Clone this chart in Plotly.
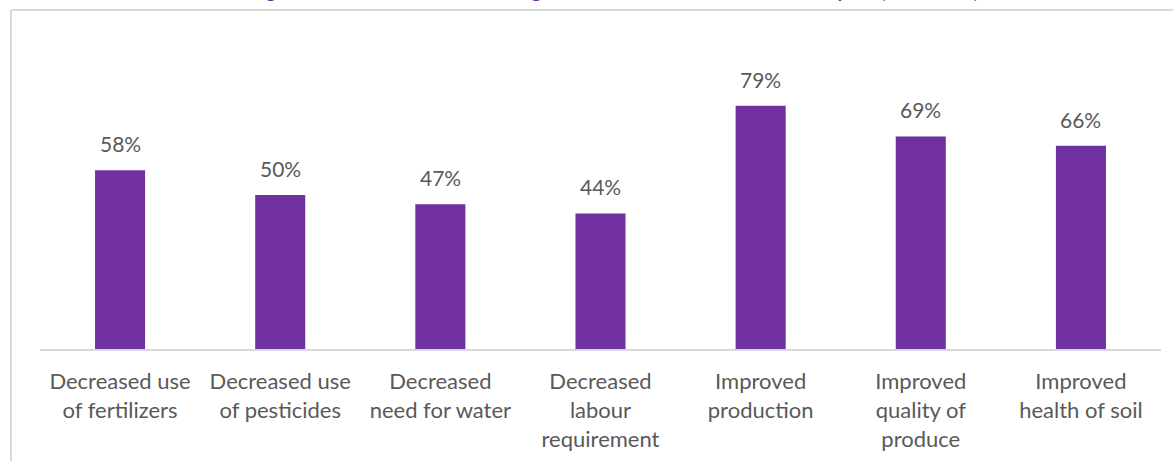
import plotly.graph_objects as go

# Share of farmers reporting each change (%)
categories = [
    "Decreased use<br>of fertilizers",
    "Decreased use<br>of pesticides",
    "Decreased<br>need for water",
    "Decreased<br>labour<br>requirement",
    "Improved<br>production",
    "Improved<br>quality of<br>produce",
    "Improved<br>health of soil",
]
values = [58, 50, 47, 44, 79, 69, 66]
title_text = "Percentage of farmers who noticed changes after the new methods were adopted (all farmers)"

W, H = 1173, 461
ML, MR, MT, MB = 40, 12, 41, 112
PURPLE = "#7030A0"
GREY_TXT = "#595959"
FONT = "Lato, 'Open Sans', sans-serif"

pw = W - ML - MR
ph = H - MT - MB


def px_x(p):
    return (p - ML) / pw


def px_y(p):
    return (H - MB - p) / ph


fig = go.Figure(
    go.Bar(
        x=categories,
        y=values,
        marker=dict(color=PURPLE, line=dict(width=0)),
        hoverinfo="skip",
    )
)

# value labels above each bar
for c, v in zip(categories, values):
    fig.add_annotation(
        x=c, y=v, text=f"{v}%", showarrow=False,
        yanchor="bottom", yshift=12,
        font=dict(family=FONT, size=21, color=GREY_TXT),
    )

# heading (runs off the top edge of the page)
fig.add_annotation(
    xref="paper", yref="paper", x=px_x(585), y=px_y(4),
    xanchor="center", yanchor="bottom", showarrow=False,
    text=f"<b>{title_text}</b>",
    font=dict(family="Lato, sans-serif", size=19, color=PURPLE),
)

# chart frame: top and left edges
fig.add_shape(type="line", xref="paper", yref="paper",
              x0=px_x(11), x1=px_x(1180), y0=px_y(10), y1=px_y(10),
              line=dict(color="#D9D9D9", width=2))
fig.add_shape(type="line", xref="paper", yref="paper",
              x0=px_x(11), x1=px_x(11), y0=px_y(10), y1=px_y(470),
              line=dict(color="#D9D9D9", width=2))

fig.update_layout(
    width=W, height=H,
    margin=dict(l=ML, r=MR, t=MT, b=MB, autoexpand=False),
    paper_bgcolor="white", plot_bgcolor="white",
    bargap=0.6875,
    showlegend=False,
    xaxis=dict(
        showline=True, linecolor="#D9D9D9", linewidth=2,
        ticks="", showgrid=False, tickangle=0, automargin=False,
        tickfont=dict(family=FONT, size=22, color=GREY_TXT),
        ticklabelstandoff=12,
    ),
    yaxis=dict(range=[0, 100], visible=False, showgrid=False, automargin=False),
)

fig.write_html("out.html")
